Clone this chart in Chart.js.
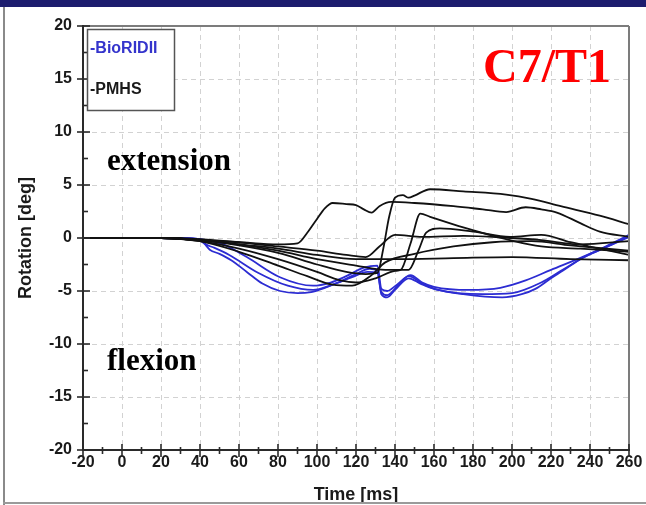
<!DOCTYPE html>
<html>
<head>
<meta charset="utf-8">
<script src="https://cdn.jsdelivr.net/npm/chart.js@4.4.1/dist/chart.umd.min.js"></script>
<style>
  html, body { margin: 0; padding: 0; background: #fff; }
  #wrap { position: relative; width: 646px; height: 505px; overflow: hidden; }
  #topbar { position: absolute; left: 0; top: 0; width: 646px; height: 7px; background: #1d1d6e; }
  #leftrule { position: absolute; left: 3px; top: 7px; width: 2px; height: 498px; background: #8a8a8a; }
  #bottomrule { position: absolute; left: 3px; top: 502px; width: 643px; height: 2px; background: #9a9a9a; }
  canvas { position: absolute; left: 0; top: 0; }
</style>
</head>
<body>
<div id="wrap">
  <canvas id="rot-chart" width="646" height="505"></canvas>
  <div id="topbar"></div>
  <div id="leftrule"></div>
  <div id="bottomrule"></div>
</div>
<script>
// axis ticks
const timeTicks = [-20, 0, 20, 40, 60, 80, 100, 120, 140, 160, 180, 200, 220, 240, 260];
const rotationTicks = [-20, -15, -10, -5, 0, 5, 10, 15, 20];
const seriesNames = ['BioRIDII', 'PMHS'];

// BioRIDII runs: [time ms, rotation deg]
const bio1 = [[-20,0],[20,0],[38,-0.1],[42,-0.5],[45,-1.1],[50,-1.5],[56,-2.1],[64,-3.2],[72,-4.3],[81,-5.0],[90,-5.2],[97,-5.1],[104,-4.7],[112,-4.1],[120,-3.4],[127,-2.9],[131,-3.1],[133,-5.3],[136,-5.6],[140,-4.9],[147,-3.8],[153,-4.3],[160,-4.8],[175,-5.3],[195,-5.6],[205,-5.3],[212,-4.8],[220,-3.8],[226,-3.1],[236,-1.9],[248,-0.9],[260,0.1]];
const bio2 = [[-20,0],[20,0],[40,-0.1],[46,-0.3],[52,-0.6],[64,-1.8],[81,-3.7],[98,-4.5],[107,-4.2],[115,-3.6],[124,-2.8],[131,-2.6],[133,-4.8],[136,-5.0],[141,-4.4],[148,-3.5],[154,-4.2],[160,-4.6],[178,-4.9],[194,-4.7],[207,-4.0],[220,-3.0],[236,-1.8],[248,-0.8],[260,0.3]];
const bio3 = [[-20,0],[20,0],[40,-0.1],[43,-0.6],[47,-0.9],[55,-1.6],[70,-3.3],[85,-4.5],[98,-4.9],[108,-4.4],[118,-3.7],[126,-3.2],[131,-3.3],[133,-5.1],[136,-5.4],[141,-4.6],[147,-3.6],[154,-4.3],[162,-4.9],[185,-5.3],[200,-5.2],[215,-4.2],[226,-3.0],[238,-1.7],[250,-0.7],[260,0.2]];

// PMHS runs: [time ms, rotation deg]
const pmhs1 = [[-20,0],[20,0],[40,-0.2],[60,-0.4],[80,-0.6],[90,-0.5],[95,0.5],[100,1.8],[104,2.8],[108,3.3],[115,3.2],[120,3.1],[124,2.7],[128,2.4],[132,3.0],[138,3.4],[150,3.3],[170,3.0],[185,2.7],[197,2.45],[207,2.9],[215,2.7],[223,2.4],[235,1.4],[245,0.6],[260,0.1]];
const pmhs2 = [[-20,0],[20,0],[40,-0.2],[60,-0.7],[80,-1.4],[100,-2.5],[115,-3.2],[125,-3.4],[131,-3.3],[134,-1.0],[137,2.0],[140,3.8],[144,4.05],[147,3.8],[150,4.0],[158,4.6],[175,4.4],[197,4.1],[210,3.7],[225,3.0],[245,2.1],[260,1.3]];
const pmhs3 = [[-20,0],[20,0],[40,-0.3],[60,-1.0],[80,-2.0],[100,-3.2],[112,-4.0],[120,-4.2],[130,-3.8],[140,-3.1],[143,-3.0],[148,-0.5],[153,2.3],[158,2.0],[175,1.0],[199,-0.2],[215,-0.8],[235,-1.0],[260,-1.3]];
const pmhs4 = [[-20,0],[20,0],[40,-0.2],[60,-0.6],[80,-1.2],[100,-2.0],[120,-2.6],[135,-3.0],[147,-3.0],[152,-1.2],[156,0.5],[163,0.9],[180,0.6],[199,0.1],[215,0.3],[230,-0.4],[245,-1.0],[260,-1.6]];
const pmhs5 = [[-20,0],[20,0],[40,-0.1],[60,-0.4],[80,-0.8],[100,-1.2],[115,-1.6],[125,-1.8],[132,-0.8],[140,0.3],[154,0.1],[175,0.2],[199,0.0],[215,-0.2],[235,-0.6],[260,-0.3]];
const pmhs6 = [[-20,0],[20,0],[40,-0.2],[60,-0.6],[80,-1.0],[100,-1.6],[120,-2.0],[140,-2.0],[170,-1.9],[200,-1.8],[230,-2.0],[260,-2.1]];
const pmhs7 = [[-20,0],[20,0],[40,-0.3],[60,-1.3],[80,-2.6],[95,-3.6],[108,-4.4],[118,-4.5],[128,-3.5],[135,-2.3],[150,-1.5],[170,-0.8],[190,-0.4],[210,-0.3],[230,-0.7],[260,-1.2]];

const BLUE = '#2c2cd2';
const BLACK = '#111111';
const SANS = '"Liberation Sans", Arial, sans-serif';
const SERIF = '"Liberation Serif", "Times New Roman", serif';

function run(points, color, label) {
  return {
    label: label,
    data: points.map(p => ({ x: p[0], y: p[1] })),
    borderColor: color,
    borderWidth: 1.8,
    pointRadius: 0,
    cubicInterpolationMode: 'monotone',
    fill: false
  };
}

// first dataset is painted last, so the PMHS traces end up on top
const datasets = [
  run(pmhs1, BLACK, seriesNames[1]),
  run(pmhs2, BLACK, seriesNames[1]),
  run(pmhs3, BLACK, seriesNames[1]),
  run(pmhs4, BLACK, seriesNames[1]),
  run(pmhs5, BLACK, seriesNames[1]),
  run(pmhs6, BLACK, seriesNames[1]),
  run(pmhs7, BLACK, seriesNames[1]),
  run(bio1, BLUE, seriesNames[0]),
  run(bio2, BLUE, seriesNames[0]),
  run(bio3, BLUE, seriesNames[0])
];

function seg(ctx, x1, y1, x2, y2) {
  ctx.beginPath();
  ctx.moveTo(x1, y1);
  ctx.lineTo(x2, y2);
  ctx.stroke();
}

// dashed grid under the curves, axes / frame / labels on top
const decor = {
  id: 'decor',
  beforeDatasetsDraw(chart) {
    const { ctx, chartArea: a, scales: { x, y } } = chart;
    ctx.save();
    ctx.strokeStyle = '#d2d2d2';
    ctx.lineWidth = 1;
    ctx.setLineDash([5, 4]);
    timeTicks.slice(1, -1).forEach(t => {
      const px = Math.round(x.getPixelForValue(t)) + 0.5;
      seg(ctx, px, a.top, px, a.bottom);
    });
    rotationTicks.slice(1, -1).forEach(v => {
      const py = Math.round(y.getPixelForValue(v)) + 0.5;
      seg(ctx, a.left, py, a.right, py);
    });
    ctx.restore();
  },
  afterDatasetsDraw(chart) {
    const { ctx, chartArea: a, scales: { x, y } } = chart;
    ctx.save();

    // top and right frame
    ctx.strokeStyle = '#7c7c7c';
    ctx.lineWidth = 2;
    seg(ctx, a.left, a.top, a.right, a.top);
    seg(ctx, a.right, a.top, a.right, a.bottom);

    // axes
    ctx.strokeStyle = '#2a2a2a';
    ctx.lineWidth = 2;
    seg(ctx, a.left, a.top - 1, a.left, a.bottom + 1);
    seg(ctx, a.left - 1, a.bottom, a.right + 1, a.bottom);

    // tick marks
    ctx.lineWidth = 1.6;
    timeTicks.forEach((t, i) => {
      const px = x.getPixelForValue(t);
      seg(ctx, px, a.bottom - 6, px, a.bottom + 7);
      if (i < timeTicks.length - 1) {
        const mx = x.getPixelForValue(t + 10);
        seg(ctx, mx, a.bottom - 3, mx, a.bottom + 4);
      }
    });
    rotationTicks.forEach((v, i) => {
      const py = y.getPixelForValue(v);
      seg(ctx, a.left - 6, py, a.left + 7, py);
      if (i < rotationTicks.length - 1) {
        const my = y.getPixelForValue(v + 2.5);
        seg(ctx, a.left, my, a.left + 5, my);
      }
    });

    // legend box
    const lx = a.left + 4.5, ly = a.top + 3.5;
    ctx.fillStyle = '#fff';
    ctx.fillRect(lx, ly, 87, 81);
    ctx.strokeStyle = '#555';
    ctx.lineWidth = 1.5;
    ctx.strokeRect(lx, ly, 87, 81);
    ctx.font = 'bold 16px ' + SANS;
    ctx.textBaseline = 'middle';
    ctx.textAlign = 'left';
    ctx.fillStyle = '#3434cc';
    ctx.fillText('-' + seriesNames[0], a.left + 7, y.getPixelForValue(17.5) - 4);
    ctx.fillStyle = '#1a1a1a';
    ctx.fillText('-' + seriesNames[1], a.left + 7, y.getPixelForValue(14));

    // annotations
    ctx.textBaseline = 'alphabetic';
    ctx.fillStyle = '#ff0000';
    ctx.font = 'bold 48px ' + SERIF;
    ctx.fillText('C7/T1', 483, 82);
    ctx.fillStyle = '#000';
    ctx.font = 'bold 31px ' + SERIF;
    ctx.fillText('extension', a.left + 24, 170);
    ctx.fillText('flexion', a.left + 24, 370);

    // axis titles
    ctx.fillStyle = '#1a1a1a';
    ctx.font = 'bold 18px ' + SANS;
    ctx.textAlign = 'center';
    ctx.textBaseline = 'middle';
    ctx.fillText('Time [ms]', (a.left + a.right) / 2, 495);
    ctx.translate(26, (a.top + a.bottom) / 2);
    ctx.rotate(-Math.PI / 2);
    ctx.fillText('Rotation [deg]', 0, 0);

    ctx.restore();
  }
};

new Chart(document.getElementById('rot-chart'), {
  type: 'line',
  data: { datasets: datasets },
  options: {
    responsive: false,
    animation: false,
    devicePixelRatio: 1,
    layout: { padding: { left: 10, top: 26, right: 17, bottom: 0 } },
    plugins: { legend: { display: false }, tooltip: { enabled: false } },
    scales: {
      x: {
        type: 'linear',
        min: -20,
        max: 260,
        afterBuildTicks: s => { s.ticks = timeTicks.map(v => ({ value: v })); },
        afterFit: s => { s.height = 55; s.paddingLeft = 0; s.paddingRight = 0; },
        grid: { display: false, drawTicks: false },
        border: { display: false },
        ticks: { padding: 3, color: '#1a1a1a', font: { family: SANS, size: 16, weight: 'bold' }, maxRotation: 0, autoSkip: false }
      },
      y: {
        min: -20,
        max: 20,
        afterBuildTicks: s => { s.ticks = rotationTicks.map(v => ({ value: v })); },
        afterFit: s => { s.width = 73; s.paddingTop = 0; s.paddingBottom = 0; },
        grid: { display: false, drawTicks: false },
        border: { display: false },
        ticks: { padding: 11, color: '#1a1a1a', font: { family: SANS, size: 16, weight: 'bold' }, autoSkip: false }
      }
    }
  },
  plugins: [decor]
});
</script>
</body>
</html>
